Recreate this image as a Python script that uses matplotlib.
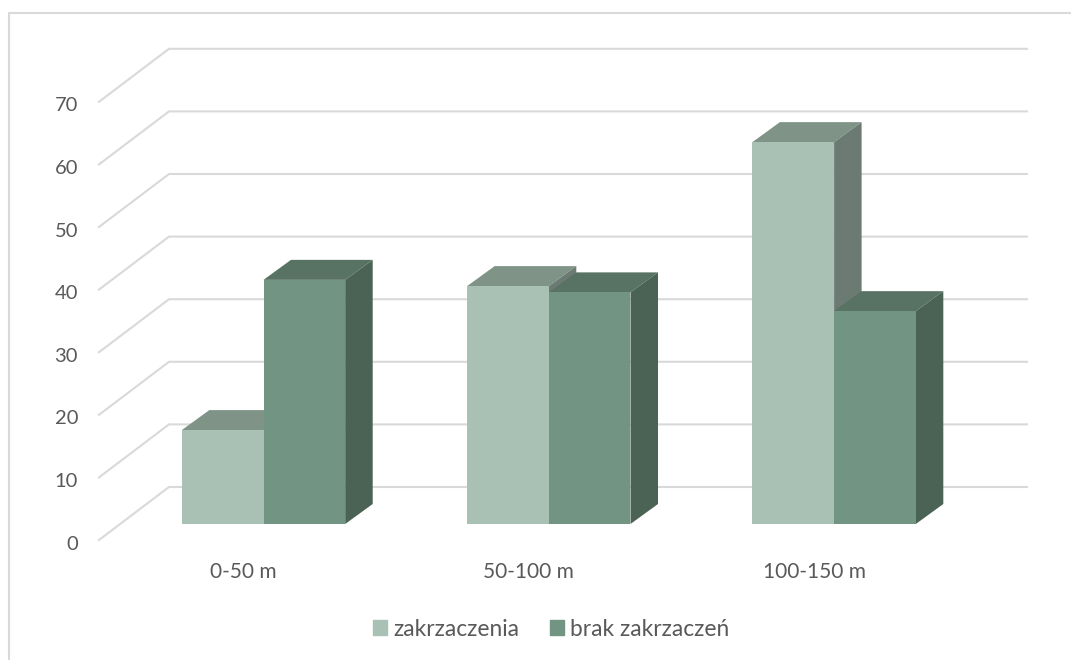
import matplotlib
matplotlib.use('Agg')
import matplotlib.pyplot as plt
from matplotlib.lines import Line2D
from matplotlib.patches import Patch

categories = ['0-50 m', '50-100 m', '100-150 m']
series_names = ['zakrzaczenia', 'brak zakrzaczeń']
zakrzaczenia = [15, 38, 61]
brak_zakrzaczen = [39, 37, 34]
y_ticks = [0, 10, 20, 30, 40, 50, 60, 70]

W, H = 1071, 660
GROUP_PX = 285.3
UNIT_PX = 6.26
X0_PX = 263.5
Y0_PX = 524.0

# front, top and side faces of each series
COL_A = ('#A9C1B4', '#7F9487', '#6B7A72')
COL_B = ('#729482', '#587264', '#4B6355')
GRID = '#D9D9D9'
TXT = '#595959'

plt.rcParams['font.family'] = ['Lato', 'DejaVu Sans']

fig = plt.figure(figsize=(W / 100, H / 100), dpi=100)
ax = fig.add_axes([0, 0, 1, 1])
ax.set_xlim(-X0_PX / GROUP_PX, (W - X0_PX) / GROUP_PX)
ax.set_ylim((Y0_PX - H) / UNIT_PX, Y0_PX / UNIT_PX)
ax.axis('off')


def dx(px):
    return px / GROUP_PX


def dy(px):
    return px / UNIT_PX


# walls: gridlines run along the back and down the left side to the front
wall_left = dx(169 - X0_PX)
wall_right = dx(1027 - X0_PX)
back_zero = dy(Y0_PX - 487)
front_zero = dy(Y0_PX - 540)
for t in y_ticks:
    yb = back_zero + t
    yf = front_zero + t
    ax.plot([dx(99 - X0_PX), wall_left, wall_right], [yf, yb, yb],
            color=GRID, lw=1.5, solid_joinstyle='miter', zorder=1)
    ax.text(dx(78 - X0_PX), yf - dy(4), str(t), ha='right', va='center',
            fontsize=14.5, color=TXT)

# bars with a fake 3d depth
bar_w = 81.7 / GROUP_PX
depth_x = dx(27.5)
depth_y = dy(20)


def draw_bar(x, h, cols, z):
    ax.bar(x, h, width=bar_w, align='edge', color=cols[0], zorder=z + 0.2)
    ax.fill([x, x + bar_w, x + bar_w + depth_x, x + depth_x],
            [h, h, h + depth_y, h + depth_y], color=cols[1], lw=0, zorder=z)
    ax.fill([x + bar_w, x + bar_w + depth_x, x + bar_w + depth_x, x + bar_w],
            [0, depth_y, h + depth_y, h], color=cols[2], lw=0, zorder=z)


for i in range(len(categories)):
    draw_bar(i - bar_w, zakrzaczenia[i], COL_A, 2)
    draw_bar(i, brak_zakrzaczen[i], COL_B, 3)
    ax.text(i - dx(20), dy(Y0_PX - 572), categories[i], ha='center', va='center',
            fontsize=15, color=TXT)

handles = [Patch(color=COL_A[0], label=series_names[0]),
           Patch(color=COL_B[0], label=series_names[1])]
fig.legend(handles=handles, loc='center', bbox_to_anchor=(551 / W, 1 - 629 / H),
           ncol=2, frameon=False, fontsize=16.4, labelcolor=TXT,
           handlelength=0.61, handleheight=0.61, handletextpad=0.26, columnspacing=1.36)

# outer chart frame, only its top and left edges fall inside the image
fig.add_artist(Line2D([9 / W, 9 / W, 1], [0, 1 - 13 / H, 1 - 13 / H],
                      transform=fig.transFigure, color=GRID, lw=1.5,
                      solid_joinstyle='miter'))

fig.savefig('out.png', dpi=100)
